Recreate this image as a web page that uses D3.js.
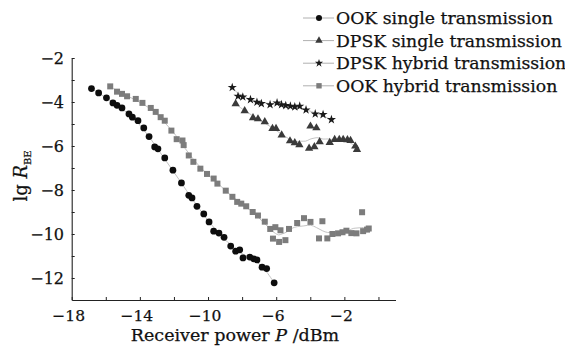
<!DOCTYPE html>
<html>
<head>
<meta charset="utf-8">
<script src="https://cdn.jsdelivr.net/npm/d3@7"></script>
<style>
  body { margin: 0; background: #fff; }
  svg text { font-family: "DejaVu Serif", "Liberation Serif", serif; fill: #111; stroke: #111; stroke-width: 0.25px; }
</style>
</head>
<body>
<svg id="chart" width="565" height="346"></svg>
<script>
// series values (x = receiver power dBm, y = lg R_BE)
var ookSingleX = [-16.84,-16.42,-15.96,-15.58,-15.34,-15.05,-14.64,-14.44,-14.11,-13.77,-13.46,-13.13,-12.94,-12.54,-12.06,-11.56,-11.13,-10.94,-10.65,-10.25,-9.94,-9.67,-9.36,-9.06,-8.67,-8.38,-8.14,-7.95,-7.55,-7.32,-7.13,-6.83,-6.56,-6.12];
var ookSingleY = [-3.39,-3.59,-3.81,-4.04,-4.15,-4.27,-4.54,-4.69,-4.85,-5.18,-5.57,-6.04,-6.13,-6.54,-7.10,-7.68,-8.24,-8.36,-8.74,-9.09,-9.45,-9.87,-9.96,-10.15,-10.55,-10.78,-10.72,-11.09,-11.05,-11.13,-11.18,-11.51,-11.57,-12.22];

var dpskSingleX = [-8.38,-7.85,-7.36,-7.07,-6.67,-6.22,-6.01,-5.68,-5.19,-4.91,-4.64,-4.07,-3.99,-3.76,-3.64,-3.45,-2.86,-2.57,-2.30,-2.07,-1.82,-1.64,-1.36,-1.26];
var dpskSingleY = [-4.08,-4.40,-4.72,-4.77,-4.90,-5.21,-5.21,-5.50,-5.77,-5.86,-5.95,-6.11,-5.10,-6.04,-5.18,-5.81,-5.84,-5.71,-5.71,-5.71,-5.72,-5.75,-6.01,-6.16];

var dpskHybridX = [-8.58,-8.24,-7.96,-7.51,-7.13,-6.87,-6.36,-5.95,-5.69,-5.44,-5.17,-4.91,-4.62,-4.25,-3.71,-3.25,-2.76];
var dpskHybridY = [-3.34,-3.74,-3.77,-3.89,-4.01,-4.07,-4.12,-4.04,-4.12,-4.16,-4.19,-4.22,-4.19,-4.36,-4.54,-4.57,-4.80];

var ookHybridX = [-15.74,-15.34,-15.05,-14.75,-14.24,-13.85,-13.36,-13.07,-12.78,-12.54,-12.15,-11.84,-11.50,-11.43,-11.13,-10.86,-10.45,-10.06,-9.67,-9.45,-8.96,-8.57,-8.29,-8.05,-7.76,-7.38,-7.07,-6.67,-6.35,-6.19,-6.05,-5.83,-5.75,-5.46,-5.25,-4.77,-4.37,-3.99,-3.49,-3.29,-3.00,-2.70,-2.37,-2.11,-1.88,-1.59,-1.29,-0.96,-0.90,-0.67,-0.57];
var ookHybridY = [-3.29,-3.53,-3.63,-3.74,-3.86,-4.04,-4.27,-4.45,-4.69,-4.85,-5.30,-5.69,-5.75,-5.96,-6.43,-6.72,-7.03,-7.27,-7.48,-7.71,-8.03,-8.31,-8.54,-8.62,-8.74,-9.00,-9.16,-9.44,-9.77,-10.21,-9.69,-10.36,-9.83,-10.28,-9.77,-9.50,-9.28,-9.45,-10.20,-9.42,-10.20,-10.00,-9.97,-9.92,-9.85,-9.96,-9.97,-9.01,-9.87,-9.80,-9.75];

var seriesNames = ["OOK single transmission", "DPSK single transmission", "DPSK hybrid transmission", "OOK hybrid transmission"];

var xTickValues = [-18, -16, -14, -12, -10, -8, -6, -4, -2, 0];
var xTickLabels = ["\u221218", "\u221214", "\u221210", "\u22126", "\u22122"];
var xLabelValues = [-18, -14, -10, -6, -2];
var yTickValues = [-2, -3, -4, -5, -6, -7, -8, -9, -10, -11, -12];
var yLabelValues = [-2, -4, -6, -8, -10, -12];
var yTickLabels = ["\u22122", "\u22124", "\u22126", "\u22128", "\u221210", "\u221212"];

var svg = d3.select("#chart");

var x = d3.scaleLinear().domain([-18, 1]).range([71.7, 395.5]);
var y = d3.scaleLinear().domain([-13, -2]).range([300, 58]);

// axes, ticks point inward
svg.append("g")
    .attr("transform", "translate(0,300)")
    .call(d3.axisBottom(x).tickValues(xTickValues).tickSizeInner(-3).tickSizeOuter(0).tickFormat(""))
    .call(function (g) {
        g.select(".domain").attr("stroke", "#222").attr("stroke-width", 1.1);
        g.selectAll(".tick line").attr("stroke", "#222");
    });

svg.append("g")
    .attr("transform", "translate(71.7,0)")
    .call(d3.axisLeft(y).tickValues(yTickValues).tickSizeInner(-3).tickSizeOuter(0).tickFormat(""))
    .call(function (g) {
        g.select(".domain").attr("stroke", "#222").attr("stroke-width", 1.1);
        g.selectAll(".tick line").attr("stroke", "#222");
    });

// tick labels
svg.selectAll(".xlab")
    .data(xLabelValues)
    .enter()
    .append("text")
    .attr("class", "xlab")
    .attr("x", function (d) { return x(d) - 3; })
    .attr("y", 321)
    .attr("text-anchor", "middle")
    .style("font-size", "15.5px")
    .text(function (d, i) { return xTickLabels[i]; });

svg.selectAll(".ylab")
    .data(yLabelValues)
    .enter()
    .append("text")
    .attr("class", "ylab")
    .attr("x", 64)
    .attr("y", function (d) { return y(d) + 6; })
    .attr("text-anchor", "end")
    .style("font-size", "16px")
    .text(function (d, i) { return yTickLabels[i]; });

// axis titles
var xt = svg.append("text")
    .attr("x", 235)
    .attr("y", 341)
    .attr("text-anchor", "middle")
    .style("font-size", "17.5px");
xt.append("tspan").text("Receiver power ");
xt.append("tspan").style("font-style", "italic").text("P");
xt.append("tspan").text(" /dBm");

var yt = svg.append("text")
    .attr("transform", "translate(27,176) rotate(-90)")
    .attr("text-anchor", "middle")
    .style("font-size", "18px");
yt.append("tspan").text("lg ");
yt.append("tspan").style("font-style", "italic").text("R");
yt.append("tspan").attr("dy", 4).style("font-size", "10px").text("BE");

// series setup
var series = [
    { xs: ookSingleX, ys: ookSingleY, sym: d3.symbolCircle, size: 36, color: "#0d0d0d" },
    { xs: dpskSingleX, ys: dpskSingleY, sym: d3.symbolTriangle, size: 30, color: "#3a3a3a" },
    { xs: dpskHybridX, ys: dpskHybridY, sym: d3.symbolStar, size: 26, color: "#1a1a1a" },
    { xs: ookHybridX, ys: ookHybridY, sym: d3.symbolSquare, size: 36, color: "#7c7c7c" }
];

// smoothed trend line (running mean) so the thin gray guide stays smooth
function smooth(pts) {
    var out = [];
    for (var i = 0; i < pts.length; i++) {
        var w = Math.min(2, i, pts.length - 1 - i);
        var sx = 0, sy = 0, n = 0;
        for (var k = i - w; k <= i + w; k++) { sx += pts[k][0]; sy += pts[k][1]; n++; }
        out.push([sx / n, sy / n]);
    }
    return out;
}

var line = d3.line()
    .x(function (d) { return x(d[0]); })
    .y(function (d) { return y(d[1]); })
    .curve(d3.curveBasis);

series.forEach(function (s) {
    var pts = s.xs.map(function (v, i) { return [v, s.ys[i]]; });
    svg.append("path")
        .attr("d", line(smooth(pts)))
        .attr("fill", "none")
        .attr("stroke", "#c4c4c4")
        .attr("stroke-width", 1);
    svg.append("g")
        .selectAll("path")
        .data(pts)
        .enter()
        .append("path")
        .attr("d", d3.symbol().type(s.sym).size(s.size))
        .attr("transform", function (d) { return "translate(" + x(d[0]) + "," + y(d[1]) + ")"; })
        .attr("fill", s.color);
});

// legend
var leg = svg.append("g").attr("transform", "translate(303,18)");
seriesNames.forEach(function (name, i) {
    var row = leg.append("g").attr("transform", "translate(0," + (i * 22.6) + ")");
    row.append("line")
        .attr("x1", 0).attr("x2", 31).attr("y1", 0).attr("y2", 0)
        .attr("stroke", "#b0b0b0").attr("stroke-width", 1);
    row.append("path")
        .attr("d", d3.symbol().type(series[i].sym).size(series[i].size * 0.8))
        .attr("transform", "translate(16,0)")
        .attr("fill", series[i].color);
    row.append("text")
        .attr("x", 33)
        .attr("y", 6)
        .style("font-size", "17.3px")
        .text(name);
});
</script>
</body>
</html>
